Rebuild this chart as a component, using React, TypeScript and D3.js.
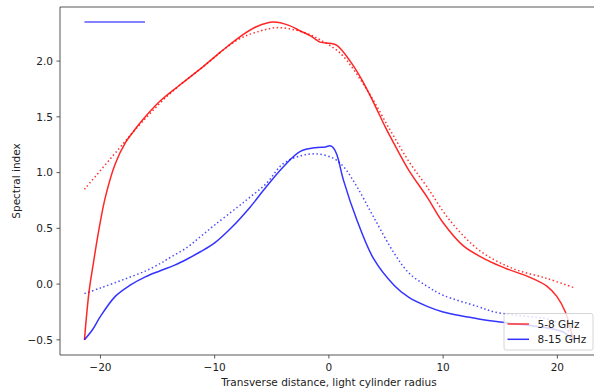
import React from "react";
import * as d3 from "d3";

const W = 594;
const H = 391;

const redSolidX = [-21.4, -21.0, -20.6, -20.15, -19.57, -18.7, -17.8, -17.1, -16.5, -14.8, -13, -11.25, -9.5, -7.76, -6.3, -4.85, -3.5, -2.5, -1.5, -0.76, 0.1, 0.7, 1.86, 2.9, 3.9, 4.93, 5.7, 7, 8.6, 10, 11.8, 13.85, 15.5, 17.6, 19.1, 19.95, 20.7, 21.1, 21.4];
const redSolidY = [-0.5, -0.07, 0.2, 0.48, 0.78, 1.08, 1.27, 1.37, 1.45, 1.64, 1.79, 1.93, 2.08, 2.22, 2.31, 2.35, 2.32, 2.27, 2.22, 2.17, 2.16, 2.14, 2.0, 1.83, 1.63, 1.41, 1.26, 1.02, 0.78, 0.55, 0.34, 0.215, 0.14, 0.06, -0.02, -0.11, -0.25, -0.38, -0.5];

const redDotX = [-21.4, -18, -17, -14, -11, -8, -6, -4.55, -3, -1.5, -0.76, 1.0, 3.35, 5.37, 7, 8.6, 10.6, 13.2, 16.1, 19.1, 21.4];
const redDotY = [0.85, 1.26, 1.38, 1.7, 1.95, 2.19, 2.27, 2.3, 2.28, 2.23, 2.19, 2.07, 1.74, 1.38, 1.1, 0.87, 0.57, 0.3, 0.14, 0.05, -0.03];

const blueSolidX = [-21.4, -20.7, -20, -18.7, -17.4, -16.07, -14.76, -13.5, -12.4, -11.25, -10, -8.5, -6.9, -5.5, -4, -2.5, -1.05, -0.3, 0.1, 0.4, 0.7, 1.28, 2.45, 3.9, 5.7, 7, 8.6, 10, 13, 15, 17.4, 19.5, 20.5, 21.4];
const blueSolidY = [-0.5, -0.41, -0.29, -0.11, -0.01, 0.065, 0.12, 0.17, 0.225, 0.29, 0.37, 0.51, 0.69, 0.87, 1.05, 1.19, 1.225, 1.23, 1.24, 1.22, 1.16, 0.93, 0.575, 0.23, -0.01, -0.12, -0.2, -0.25, -0.31, -0.34, -0.37, -0.4, -0.43, -0.5];

const blueDotX = [-21.4, -20, -18, -16, -14.76, -14.2, -12.4, -11.25, -10, -8, -6.9, -5.5, -4, -2.5, -1.05, 0.4, 1.28, 2.45, 3.9, 5.7, 7, 8.6, 10, 13, 14.5, 17.4, 19, 20.3, 21.4];
const blueDotY = [-0.085, -0.035, 0.04, 0.12, 0.185, 0.22, 0.33, 0.425, 0.53, 0.69, 0.78, 0.9, 1.08, 1.15, 1.167, 1.128, 1.053, 0.874, 0.604, 0.279, 0.1, -0.02, -0.1, -0.2, -0.25, -0.29, -0.31, -0.36, -0.47];

const strayX = [-21.4, -16.1];
const strayY = [2.35, 2.35];

const xTicks = [-20, -10, 0, 10, 20];
const yTicks = [-0.5, 0, 0.5, 1.0, 1.5, 2.0];
const legendLabels = ["5-8 GHz", "8-15 GHz"];

const fmtNum = (v: number, digits: number) => {
  const s = v.toFixed(digits);
  return s.startsWith("-") ? "\u2212" + s.slice(1) : s;
};

export default function App() {
  const left = 60, top = 7, bottom = 355, right = 597.8;
  const x = d3.scaleLinear().domain([-23.54, 23.54]).range([left, right]);
  const y = d3.scaleLinear().domain([-0.636, 2.485]).range([bottom, top]);
  const line = d3
    .line<[number, number]>()
    .x((d) => x(d[0]))
    .y((d) => y(d[1]))
    .curve(d3.curveCatmullRom.alpha(0.5));
  const zip = (a: number[], b: number[]) => a.map((v, i) => [v, b[i]] as [number, number]);

  const font = "DejaVu Sans, sans-serif";
  const red = "#ff0000";
  const blue = "#0000ff";
  const dot = "1.5 2.5";
  const fs = 10.5;

  const legX = 504, legY = 313.5, legW = 89, legH = 36.5;

  return (
    <svg width={W} height={H} style={{ position: "absolute", left: 0, top: 0, background: "#fff" }} fontFamily={font}>
      <defs>
        <clipPath id="clipAx">
          <rect x={left} y={top} width={right - left} height={bottom - top} />
        </clipPath>
      </defs>
      <g clipPath="url(#clipAx)" fill="none" strokeWidth={1.5}>
        <path d={line(zip(strayX, strayY)) || ""} stroke={blue} strokeOpacity={0.65} />
        <path d={line(zip(redDotX, redDotY)) || ""} stroke={red} strokeOpacity={0.8} strokeDasharray={dot} />
        <path d={line(zip(blueDotX, blueDotY)) || ""} stroke={blue} strokeOpacity={0.7} strokeDasharray={dot} />
        <path d={line(zip(redSolidX, redSolidY)) || ""} stroke={red} strokeOpacity={0.85} />
        <path d={line(zip(blueSolidX, blueSolidY)) || ""} stroke={blue} strokeOpacity={0.8} />
      </g>
      <g stroke="#444" strokeWidth={0.9} fill="none">
        <line x1={left} y1={top} x2={left} y2={bottom} />
        <line x1={left} y1={bottom} x2={right} y2={bottom} />
        <line x1={left} y1={top} x2={right} y2={top} />
        <line x1={right} y1={top} x2={right} y2={bottom} />
      </g>
      {xTicks.map((t) => (
        <g key={"x" + t}>
          <line x1={x(t)} x2={x(t)} y1={bottom} y2={bottom + 3.5} stroke="#444" strokeWidth={0.9} />
          <text x={x(t)} y={bottom + 15.5} textAnchor="middle" fontSize={fs} fill="#222">
            {fmtNum(t, 0)}
          </text>
        </g>
      ))}
      {yTicks.map((t) => (
        <g key={"y" + t}>
          <line x1={left - 3.5} x2={left} y1={y(t)} y2={y(t)} stroke="#444" strokeWidth={0.9} />
          <text x={left - 7} y={y(t) + 3.8} textAnchor="end" fontSize={fs} fill="#222">
            {fmtNum(t, 1)}
          </text>
        </g>
      ))}
      <text x={(left + right) / 2} y={385.5} textAnchor="middle" fontSize={fs} fill="#222">
        Transverse distance, light cylinder radius
      </text>
      <text transform={`translate(${20},${(top + bottom) / 2}) rotate(-90)`} textAnchor="middle" fontSize={fs} fill="#222">
        Spectral index
      </text>
      <rect x={legX} y={legY} width={legW} height={legH} rx={2} fill="#fff" fillOpacity={0.8} stroke="#ccc" strokeWidth={0.8} />
      {legendLabels.map((lab, i) => {
        const ly = legY + 10.5 + i * 15.3;
        return (
          <g key={lab}>
            <line x1={legX + 3.5} x2={legX + 25} y1={ly} y2={ly} stroke={i === 0 ? red : blue} strokeOpacity={0.8} strokeWidth={1.5} />
            <text x={legX + 33.5} y={ly + 3.8} fontSize={fs} fill="#222">
              {lab}
            </text>
          </g>
        );
      })}
    </svg>
  );
}
